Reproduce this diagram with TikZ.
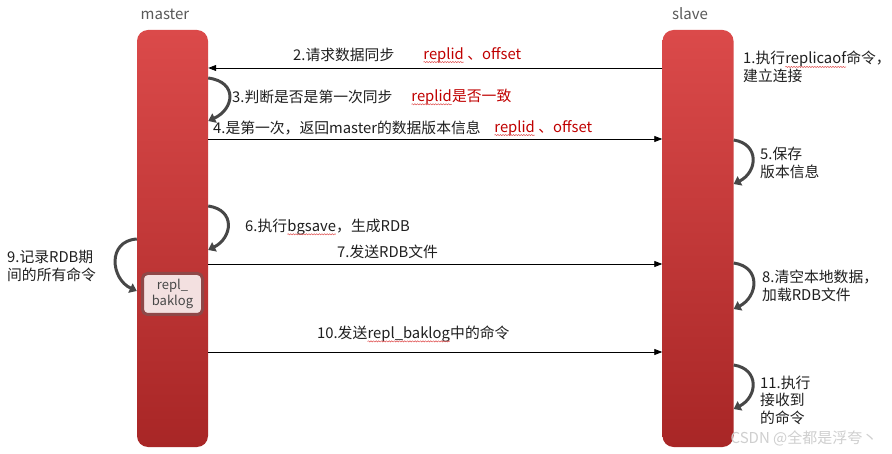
\documentclass[tikz,border=0pt]{standalone}
\usepackage{fontspec}
\setmainfont{Noto Sans CJK SC}
\usetikzlibrary{arrows.meta,decorations.pathmorphing}
\definecolor{barTop}{HTML}{DB4A4A}
\definecolor{barBot}{HTML}{A82626}
\definecolor{lab}{HTML}{1F1F1F}
\definecolor{hl}{HTML}{C00000}
\definecolor{loopc}{HTML}{474747}
\definecolor{spell}{HTML}{E05050}
\definecolor{ttl}{HTML}{595959}
\definecolor{wmc}{HTML}{CFCFCF}
\definecolor{bufin}{HTML}{F3E0E0}
\definecolor{bufedge}{HTML}{8E4848}
\newcommand\spl[1]{\tikz[baseline=(w.base)]{\node[inner sep=0pt,outer sep=0pt,anchor=base] (w) {#1};
  \draw[decorate,decoration={snake,amplitude=0.6pt,segment length=2.6pt},spell,line width=0.5pt] ([yshift=-3pt]w.base west) -- ([yshift=-3pt]w.base east);}}
\begin{document}
\begin{tikzpicture}[x=1pt,y=-1pt,
  lifebar/.style={rounded corners=11pt, top color=barTop, bottom color=barBot, minimum width=71pt, minimum height=417pt, inner sep=0pt},
  lbl/.style={anchor=west, text=lab, font=\fontsize{14.8}{17.5}\selectfont, inner sep=0pt},
  ttlbl/.style={text=ttl, font=\fontsize{15}{18}\selectfont, inner sep=0pt},
  msg/.style={-{Triangle[length=8pt,width=6pt]}, line width=0.8pt, black},
  selfarr/.style={line width=3pt, loopc, -{Triangle[length=7pt,width=10pt]}},
  bufbox/.style={rounded corners=5pt, fill=bufin, draw=bufedge, line width=3pt, minimum width=60pt, minimum height=41pt, align=center, text=loopc, font=\fontsize{13}{16}\selectfont, inner sep=0pt},
  wm/.style={text=wmc, font=\fontsize{15}{17}\selectfont, inner sep=0pt}
]
\useasboundingbox (0,0) rectangle (892,454);
\fill[white] (0,0) rectangle (892,454);

\node[lifebar] (master) at (172.5,238.5) {};
\node[lifebar] (slave) at (698,238.5) {};
\node[ttlbl] (mt) at (165,14) {master};
\node[ttlbl] (st) at (690,14) {slave};

\node[bufbox] (buf) at (172.5,294) {repl\_\\baklog};

% messages
\draw[msg] (slave.west |- 0,68) -- (master.east |- 0,68);
\draw[msg] (master.east |- 0,139) -- (slave.west |- 0,139);
\draw[msg] (master.east |- 0,264) -- (slave.west |- 0,264);
\draw[msg] (master.east |- 0,352) -- (slave.west |- 0,352);

% self loops
\draw[selfarr] (master.east |- 0,78) .. controls +(30,4) and +(26,-12) .. (master.east |- 0,121);
\draw[selfarr] (master.east |- 0,206) .. controls +(28,4) and +(24,-12) .. (master.east |- 0,250);
\draw[selfarr] (master.west |- 0,239) .. controls +(-30,2) and +(-26,-12) .. (master.west |- 0,291);
\draw[selfarr] (slave.east |- 0,140) .. controls +(26,4) and +(24,-12) .. (slave.east |- 0,184);
\draw[selfarr] (slave.east |- 0,263) .. controls +(28,4) and +(24,-12) .. (slave.east |- 0,309);
\draw[selfarr] (slave.east |- 0,365) .. controls +(26,4) and +(24,-12) .. (slave.east |- 0,409);

% labels
\node[lbl] (l2) at (293,55) {2.请求数据同步};
\node[lbl,text=hl] (l2b) at (423,55) {\spl{replid} 、offset};
\node[lbl] (l3) at (232,97) {3.判断是否是第一次同步};
\node[lbl,text=hl] (l3b) at (411,97) {\spl{replid}是否一致};
\node[lbl] (l4) at (213,128) {4.是第一次，返回master的数据版本信息};
\node[lbl,text=hl] (l4b) at (494,128) {\spl{replid} 、offset};
\node[lbl,align=left] (l1) at (743,67) {1.执行\spl{replicaof}命令，\\建立连接};
\node[lbl,align=left] (l5) at (760,163) {5.保存\\版本信息};
\node[lbl] (l6) at (245,227) {6.执行\spl{bgsave}，生成RDB};
\node[lbl] (l7) at (337,252) {7.发送RDB文件};
\node[lbl,align=left] (l9) at (7,266) {9.记录RDB期\\间的所有命令};
\node[lbl,align=left] (l8) at (762,286) {8.清空本地数据，\\加载RDB文件};
\node[lbl] (l10) at (317,334) {10.发送\spl{repl\_baklog}中的命令};
\node[lbl,align=left] (l11) at (760,400) {11.执行\\接收到\\的命令};
\node[wm] (wmark) at (804,438) {CSDN @全都是浮夸丶};
\end{tikzpicture}
\end{document}
